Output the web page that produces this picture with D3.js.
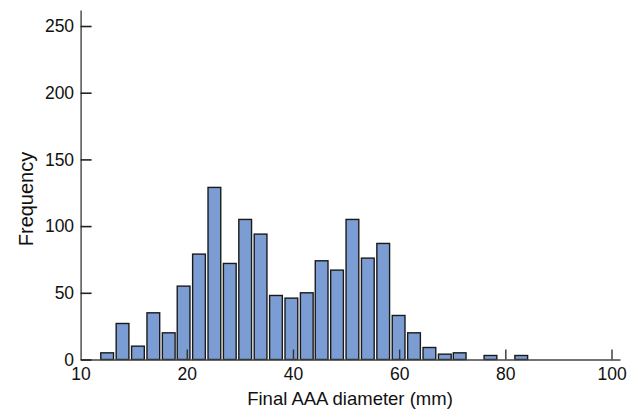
<!DOCTYPE html>
<html>
<head>
<meta charset="utf-8">
<script src="https://cdn.jsdelivr.net/npm/d3@7"></script>
<style>
  body { margin: 0; background: #fff; }
  svg text { font-family: "Liberation Sans", Arial, sans-serif; fill: #111; }
</style>
</head>
<body>
<div id="chart"></div>
<script>
// Histogram bins (axis units) and their counts
const binCenters = [5.0, 7.9, 10.8, 13.7, 16.6, 19.4, 22.3, 25.2, 28.1, 31.0, 33.9, 36.8, 39.7, 42.6,
                    45.4, 48.3, 51.2, 54.1, 57.0, 59.9, 62.8, 65.7, 68.6, 71.4, 74.3, 77.2, 80.1, 83.0];
const counts = [5, 27, 10, 35, 20, 55, 79, 129, 72, 105, 94, 48, 46, 50,
                74, 67, 105, 76, 87, 33, 20, 9, 4, 5, 0, 3, 0, 3];
const binWidth = 2.89;

// Axis ticks as printed on the figure
const xTickValues = [0, 20, 40, 60, 80, 100];
const xTickLabels = ['10', '20', '40', '60', '80', '100'];
const yTickValues = [0, 50, 100, 150, 200, 250];

const W = 627, H = 410;
const margin = {top: 10, right: 7, bottom: 50.5, left: 80.6};

const svg = d3.select('#chart').append('svg')
    .attr('width', W)
    .attr('height', H);

const xScale = d3.scaleLinear()
    .domain([0, 101.6])
    .range([margin.left, W - margin.right]);

const yScale = d3.scaleLinear()
    .domain([0, 262])
    .range([H - margin.bottom, margin.top]);

// Bars
const barW = xScale(binWidth * 0.83) - xScale(0);
svg.append('g')
    .selectAll('rect')
    .data(binCenters.map((c, i) => ({c: c, n: counts[i]})).filter(d => d.n > 0))
    .enter().append('rect')
    .attr('x', d => xScale(d.c) - barW / 2)
    .attr('y', d => yScale(d.n))
    .attr('width', barW)
    .attr('height', d => yScale(0) - yScale(d.n))
    .style('fill', '#7c9dd3')
    .style('stroke', '#1a1a1a')
    .style('stroke-width', 1.4);

// X axis, ticks pointing inward
const xAxis = svg.append('g')
    .attr('transform', `translate(0,${yScale(0)})`)
    .call(d3.axisBottom(xScale)
        .tickValues(xTickValues)
        .tickSizeInner(-10)
        .tickSizeOuter(0)
        .tickPadding(8)
        .tickFormat((d, i) => xTickLabels[i]));
xAxis.select('.domain').attr('stroke', '#444').attr('stroke-width', 1.4);
xAxis.selectAll('.tick line').attr('stroke', '#333').attr('stroke-width', 1.4);
xAxis.selectAll('.tick').filter(d => d === 0).select('line').remove();
xAxis.selectAll('.tick text')
    .style('font-size', '17.5px')
    .attr('fill', '#111');

// Y axis, ticks pointing inward
const yAxis = svg.append('g')
    .attr('transform', `translate(${xScale(0)},0)`)
    .call(d3.axisLeft(yScale)
        .tickValues(yTickValues)
        .tickSizeInner(-11)
        .tickSizeOuter(0)
        .tickPadding(6.5));
yAxis.select('.domain').attr('stroke', '#444').attr('stroke-width', 1.4);
yAxis.selectAll('.tick line').attr('stroke', '#222').attr('stroke-width', 1.6);
yAxis.selectAll('.tick text')
    .style('font-size', '17.5px')
    .attr('fill', '#111');

// Axis titles
svg.append('text')
    .attr('x', 350)
    .attr('y', 405)
    .style('text-anchor', 'middle')
    .style('font-size', '18.5px')
    .text('Final AAA diameter (mm)');

svg.append('text')
    .attr('transform', 'translate(33,199) rotate(-90)')
    .style('text-anchor', 'middle')
    .style('font-size', '20px')
    .text('Frequency');
</script>
</body>
</html>
